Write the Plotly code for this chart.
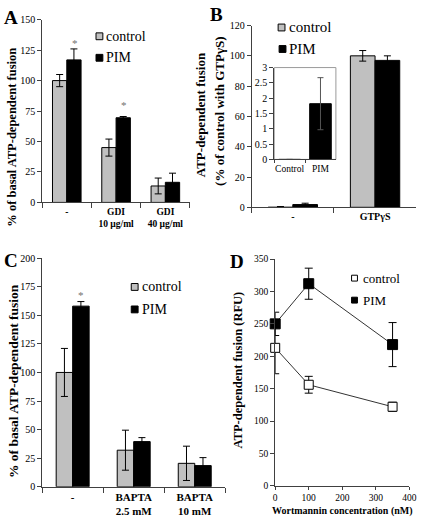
import plotly.graph_objects as go

W, H = 432, 526
SERIF = "Liberation Serif"
AX = "#404040"


def px(x):
    return x / W


def py(y):
    return 1 - y / H


# ---------------- data ----------------
# Panel A
a_cats = ["-", "GDI<br>10 µg/ml", "GDI<br>40 µg/ml"]
a_control = [100, 45, 13.5]
a_control_err = [5, 7, 6.5]
a_pim = [117, 69.5, 16.5]
a_pim_err = [9, 1, 7.5]
a_star_idx = [0, 1]
a_star_y = [131, 80]

# Panel B
b_cats = ["-", "GTPγS"]
b_control = [0, 100]
b_control_err = [0.5, 3.5]
b_pim = [1.8, 97]
b_pim_err = [0.9, 3]

# Panel B inset
inset_cats = ["Control", "PIM"]
inset_vals = [0, 1.82]
inset_err = [0, 0.85]

# Panel C
c_cats = ["-", "BAPTA<br>2.5 mM", "BAPTA<br>10 mM"]
c_control = [100, 32, 20.5]
c_control_err = [21, 17.5, 15]
c_pim = [158, 39.5, 18.5]
c_pim_err = [4, 3.5, 7]
c_star_idx = [0]
c_star_y = [168]

# Panel D
d_conc = [0, 100, 350]
d_control = [213, 156, 122]
d_control_err = [40, 13, 7]
d_pim = [250, 312, 218]
d_pim_err = [18, 24, 34]

GRAY = "#C0C0C0"

fig = go.Figure()


def err(arr, w=3.5):
    return dict(type="data", array=arr, visible=True, color="black", thickness=1, width=w)


def bar_pair(cats, ctl, ctl_e, pim, pim_e, bw, xa, ya):
    n = len(cats)
    fig.add_trace(go.Bar(x=cats, y=ctl, name="control", width=[bw] * n, offset=[-bw] * n,
                         marker=dict(color=GRAY, line=dict(color="black", width=1)),
                         error_y=err(ctl_e), xaxis=xa, yaxis=ya, showlegend=False))
    fig.add_trace(go.Bar(x=cats, y=pim, name="PIM", width=[bw] * n, offset=[0] * n,
                         marker=dict(color="black", line=dict(color="black", width=1)),
                         error_y=err(pim_e), xaxis=xa, yaxis=ya, showlegend=False))


bar_pair(a_cats, a_control, a_control_err, a_pim, a_pim_err, 0.29, "x", "y")
bar_pair(b_cats, b_control, b_control_err, b_pim, b_pim_err, 0.30, "x2", "y2")
fig.add_trace(go.Bar(x=inset_cats, y=inset_vals, name="inset", width=[0.7] * 2, offset=[-0.35] * 2,
                     marker=dict(color="black", line=dict(color="black", width=1)),
                     error_y=dict(type="data", array=inset_err, visible=True, color="#555555",
                                  thickness=1, width=3),
                     xaxis="x3", yaxis="y3", showlegend=False))
bar_pair(c_cats, c_control, c_control_err, c_pim, c_pim_err, 0.27, "x4", "y4")

# Panel D lines
fig.add_trace(go.Scatter(x=d_conc, y=d_pim, name="PIM", mode="lines+markers",
                         line=dict(color="#333333", width=1),
                         marker=dict(symbol="square", size=10, color="black",
                                     line=dict(color="black", width=1)),
                         error_y=err(d_pim_err, 4), cliponaxis=False,
                         xaxis="x5", yaxis="y5", showlegend=False))
fig.add_trace(go.Scatter(x=d_conc, y=d_control, name="control", mode="lines+markers",
                         line=dict(color="#333333", width=1),
                         marker=dict(symbol="square", size=9, color="white",
                                     line=dict(color="black", width=1)),
                         error_y=err(d_control_err, 4), cliponaxis=False,
                         xaxis="x5", yaxis="y5", showlegend=False))


def yax(y0, y1, rng, dtick, anchor, size=10):
    return dict(domain=[py(y1), py(y0)], range=rng, dtick=dtick, tick0=0, anchor=anchor,
                ticks="outside", ticklen=4, tickcolor=AX, showline=True, linecolor=AX,
                linewidth=1, showgrid=False, zeroline=False,
                tickfont=dict(family=SERIF, size=size, color="black"))


def xcat(x0, x1, n, anchor, size=10, bold=True, ticklen=5):
    return dict(domain=[px(x0), px(x1)], type="category", range=[-0.5, n - 0.5], anchor=anchor,
                tickson="boundaries", ticks="outside", ticklen=ticklen, tickcolor=AX,
                showline=True, linecolor=AX, linewidth=1, showgrid=False, zeroline=False,
                tickangle=0,
                tickfont=dict(family=SERIF, size=size, color="black",
                              weight="bold" if bold else "normal"))


fig.update_layout(
    width=W, height=526, autosize=False,
    margin=dict(l=0, r=0, t=0, b=0),
    paper_bgcolor="white", plot_bgcolor="rgba(0,0,0,0)",
    barmode="overlay",
    font=dict(family=SERIF, color="black"),
    xaxis=xcat(41, 192, 3, "y", size=9.5),
    yaxis=yax(14, 201, [0, 150], 25, "x"),
    xaxis2=xcat(255, 423, 2, "y2", size=10),
    yaxis2=yax(20, 206, [0, 120], 20, "x2"),
    xaxis3=xcat(278, 341, 2, "y3", size=9.5, bold=False, ticklen=3),
    yaxis3=yax(63, 157, [0, 3], 0.5, "x3"),
    xaxis4=xcat(41, 228, 3, "y4", size=11),
    yaxis4=yax(258, 492, [0, 200], 25, "x4"),
    xaxis5=dict(domain=[px(279), px(416)], range=[0, 400], dtick=100, anchor="y5",
                ticks="outside", ticklen=3, tickcolor=AX, showline=True, linecolor=AX,
                showgrid=False, zeroline=False,
                tickfont=dict(family=SERIF, size=9.5, color="black")),
    yaxis5=yax(259, 491, [0, 350], 50, "x5", size=9.5),
)

shapes = []
annotations = []

# inset frame (gray top/right)
shapes.append(dict(type="rect", xref="paper", yref="paper", x0=px(278), x1=px(341),
                   y0=py(157), y1=py(63), line=dict(color="#9a9a9a", width=1),
                   fillcolor="rgba(0,0,0,0)", layer="below"))


def legend_item(x, y, text, fill, size=14, sw=7, gap=1):
    shapes.append(dict(type="rect", xref="paper", yref="paper",
                       x0=px(x), x1=px(x + sw), y0=py(y + sw / 2), y1=py(y - sw / 2),
                       fillcolor=fill, line=dict(color="black", width=1)))
    annotations.append(dict(xref="paper", yref="paper", x=px(x + sw + gap), y=py(y), text=text,
                            showarrow=False, xanchor="left", yanchor="middle",
                            font=dict(family=SERIF, size=size, color="black")))


legend_item(96, 31, "control", GRAY)
legend_item(96, 53, "PIM", "black")
legend_item(282, 22, "control", GRAY, size=15, gap=2)
legend_item(283, 44, "PIM", "black", size=15, gap=1)
legend_item(132, 287.5, "control", GRAY, gap=2)
legend_item(132, 310.5, "PIM", "black", gap=2)
legend_item(357, 278.5, "control", "white", size=13, sw=6, gap=4)
legend_item(357, 301, "PIM", "black", size=13, sw=6, gap=4)

# stars
for i, yv in zip(a_star_idx, a_star_y):
    annotations.append(dict(xref="x", yref="y", x=i + 0.16, y=yv, text="*", showarrow=False,
                            font=dict(family=SERIF, size=11, color="#707070")))
for i, yv in zip(c_star_idx, c_star_y):
    annotations.append(dict(xref="x4", yref="y4", x=i + 0.14, y=yv, text="*", showarrow=False,
                            font=dict(family=SERIF, size=11, color="#707070")))


def rot_title(xc, yc, text, size):
    annotations.append(dict(xref="paper", yref="paper", x=px(xc), y=py(yc), text=text,
                            textangle=-90, showarrow=False, xanchor="center", yanchor="middle",
                            font=dict(family=SERIF, size=size, color="black", weight="bold")))


rot_title(10, 134, "% of basal ATP-dependent fusion", 12.5)
rot_title(203, 111, "ATP-dependent fusion", 13)
rot_title(222, 107, "(% of control with GTPγS)", 13)
rot_title(11, 384, "% of basal ATP-dependent fusion", 13.5)
rot_title(241, 372, "ATP-dependent fusion (RFU)", 12.5)
annotations.append(dict(xref="paper", yref="paper", x=px(348), y=py(517),
                        text="Wortmannin concentration (nM)", showarrow=False,
                        xanchor="center", yanchor="middle",
                        font=dict(family=SERIF, size=10, color="black", weight="bold")))

# panel letters
for letter, (lx, ly) in {"A": (9, 12), "B": (219, 9), "C": (9, 260), "D": (240, 261)}.items():
    annotations.append(dict(xref="paper", yref="paper", x=px(lx), y=py(ly), text=letter,
                            showarrow=False, xanchor="center", yanchor="middle",
                            font=dict(family=SERIF, size=19, color="black", weight="bold")))

fig.update_layout(shapes=shapes, annotations=annotations)
fig.write_html("out.html", config={"displayModeBar": False},
               post_script="document.body.style.margin='0';document.body.style.padding='0';"
                           "document.body.style.overflow='hidden';")
